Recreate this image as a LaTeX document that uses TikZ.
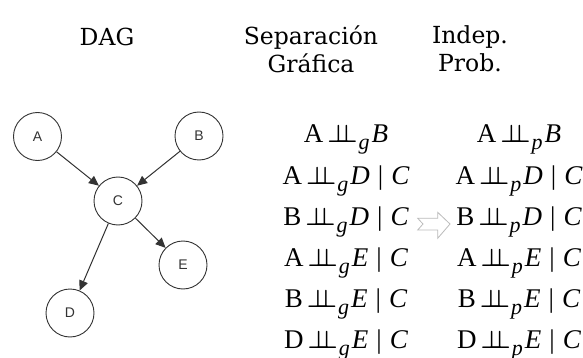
\documentclass[tikz,border=0pt]{standalone}
\usepackage{fontspec}
\setmainfont{DejaVu Serif}
\newfontfamily\labelfont{Liberation Sans}
\newfontfamily\mfont{Liberation Serif}
\usetikzlibrary{arrows.meta}
\definecolor{ink}{HTML}{333333}
\definecolor{hollow}{HTML}{BBBBBB}
% independence statement: left symbol, index, right symbol, optional condition
\newcommand{\ci}{{\boldmath$\perp\!\!\!\perp$}}
\newcommand{\rel}[4]{{\mfont #1\kern4pt\ci\kern1pt\raisebox{-7pt}{\fontsize{22}{22}\selectfont\itshape #2}\kern2pt\itshape #3\ifx&#4&\else\kern8pt\upshape|\kern8pt\itshape #4\fi}}
\tikzset{
  var/.style={circle, draw=ink, line width=0.9pt, minimum size=48pt, inner sep=0pt,
    font=\labelfont\fontsize{14}{14}\selectfont, text=ink},
  edge/.style={draw=ink, line width=1pt, -{Triangle[length=10pt,width=9pt]}},
  head/.style={font=\fontsize{23.5}{28}\selectfont, align=center, text=black},
  formula/.style={font=\fontsize{27}{30}\selectfont, anchor=base}
}
\begin{document}
\begin{tikzpicture}[x=1pt,y=-1pt]
\useasboundingbox (0,0) rectangle (583,358);
% column titles
\node[head] (tdag) at (107,37) {DAG};
\node[head] (tsep) at (311,49) {Separación\\Gráfica};
\node[head] (tind) at (470,49) {Indep.\\Prob.};
% the graph
\node[var] (A) at (37.5,136.5) {A};
\node[var] (B) at (199,136) {B};
\node[var] (C) at (118,201) {C};
\node[var] (E) at (183,265) {E};
\node[var] (D) at (70,313) {D};
\draw[edge] (A) -- (C);
\draw[edge] (B) -- (C);
\draw[edge] (C) -- (D);
\draw[edge] (C) -- (E);
% graphical separations
\node[formula] (g1) at (346,143) {\rel{A}{g}{B}{}};
\node[formula] (g2) at (346,184) {\rel{A}{g}{D}{C}};
\node[formula] (g3) at (346,225) {\rel{B}{g}{D}{C}};
\node[formula] (g4) at (346,266) {\rel{A}{g}{E}{C}};
\node[formula] (g5) at (346,307) {\rel{B}{g}{E}{C}};
\node[formula] (g6) at (346,348) {\rel{D}{g}{E}{C}};
% probabilistic independences
\node[formula] (p1) at (519,143) {\rel{A}{p}{B}{}};
\node[formula] (p2) at (519,184) {\rel{A}{p}{D}{C}};
\node[formula] (p3) at (519,225) {\rel{B}{p}{D}{C}};
\node[formula] (p4) at (519,266) {\rel{A}{p}{E}{C}};
\node[formula] (p5) at (519,307) {\rel{B}{p}{E}{C}};
\node[formula] (p6) at (519,348) {\rel{D}{p}{E}{C}};
% hollow implication arrow
\draw[hollow, line width=0.8pt, fill=white, line join=miter]
  (417.7,218.3) -- (423,224) -- (417.7,230) -- (437.7,230) -- (437.7,238.3)
  -- (450,224) -- (437.7,212.3) -- (437.7,218.3) -- cycle;
\end{tikzpicture}
\end{document}
